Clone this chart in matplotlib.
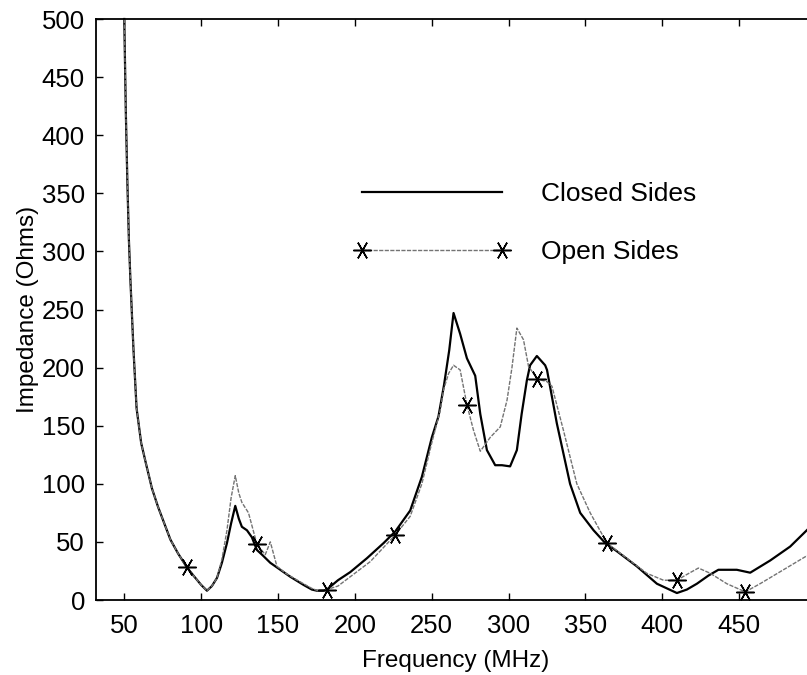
import numpy as np
import matplotlib
matplotlib.use('Agg')
import matplotlib.pyplot as plt

plt.rcParams['font.family'] = ['Liberation Sans', 'DejaVu Sans']

# Closed sides (solid line)
closed_f = [50, 51, 52, 53, 54, 55, 56, 58, 61, 64, 68, 72, 76, 80, 85, 90.8, 95, 100, 103.8,
            107, 110.3, 113.5, 116.8, 119.5, 122.2, 124.5, 126.5, 129.8, 133, 136.3, 139.6, 145,
            151.5, 158, 166.6, 172, 175.3, 179.6, 181.8, 189, 197, 207.9, 218.7, 226.3, 236,
            243.6, 250.1, 254.4, 258, 261.4, 264.2, 268.5, 272.9, 278.3, 281.6, 285.9, 291.3,
            295.7, 301, 305.4, 308.5, 311.9, 314, 318.4, 323.8, 325, 331.4, 340, 346.6, 355.3,
            362.9, 370.4, 383.4, 396.5, 409.5, 416, 422.5, 430, 436.5, 448.5, 457.2, 470.2,
            483.2, 494, 500]
closed_z = [500, 420, 360, 310, 275, 245, 215, 165, 135, 118, 96, 80, 66, 52, 40, 28, 21, 13, 8,
            12, 19, 32, 49, 66, 81, 70, 63, 60, 54, 43, 39, 32,
            26, 20, 13, 9, 8, 8, 9, 17, 24, 36, 49, 59, 77,
            106, 140, 158, 185, 215, 247, 229, 208, 193, 160, 129, 116,
            116, 115, 129, 160, 189, 202, 210, 202, 198, 152, 100, 75, 60,
            49, 42, 29, 14, 6, 9, 14, 21, 26, 26, 23.5, 34,
            46, 60, 68]

# Open sides (thin line with asterisks)
open_f = [50, 51, 52, 53, 54, 55, 56, 58, 61, 64, 68, 72, 76, 80, 85, 90.8, 95, 100, 103.8,
          107, 110.3, 113.5, 116.8, 119.5, 122.2, 124.5, 126.5, 130.8, 136.3, 141.7, 145, 149.3,
          155, 160, 166.6, 172, 176, 181.8, 189, 197, 210, 226.3, 236, 243.6, 250, 255.5, 257.7,
          261, 264.2, 268.5, 272.9, 277.2, 281.6, 288.1, 294.6, 299, 302.2, 305.4, 309.7, 313,
          318.8, 324.9, 328.2, 335.7, 344.4, 353.1, 364, 376.9, 389.9, 400.8, 409.5, 416, 423.5,
          431.2, 442, 454, 463.6, 478.8, 494, 500]
open_z = [500, 420, 360, 310, 275, 245, 215, 165, 135, 118, 96, 80, 66, 52, 40, 28, 21, 13, 8,
          12, 19, 35, 60, 88, 107, 92, 84, 75, 48, 39, 50, 29,
          23, 19, 14, 10, 8, 9, 12, 20, 33, 56, 72, 100, 135, 163, 181,
          195, 202, 198, 168, 146, 128, 140, 149, 172, 200, 234, 224, 201,
          190, 188, 184, 146, 100, 75, 49, 36, 23, 17, 17, 22, 27.5,
          23, 14, 7, 14, 26, 38, 42]
open_marker_f = [90.8, 136.3, 181.8, 226.3, 272.9, 318.8, 364, 409.5, 454]

x_ticks = [50, 100, 150, 200, 250, 300, 350, 400, 450]
y_ticks = [0, 50, 100, 150, 200, 250, 300, 350, 400, 450, 500]

mark_idx = [i for i, f in enumerate(open_f) if f in open_marker_f]

fig = plt.figure(figsize=(8.07, 6.75), dpi=100)
ax = fig.add_axes([96 / 807, 75 / 675, (816 - 96) / 807, (600 - 19) / 675])

ax.plot(closed_f, closed_z, color='black', lw=1.6, label='Closed Sides', clip_on=False)
ax.plot(open_f, open_z, color='0.45', lw=1.0, linestyle=(0, (3, 1)),
        marker=(6, 2, 90), markersize=13, markeredgewidth=1.1, markeredgecolor='black',
        markevery=mark_idx, label='Open Sides', clip_on=False)

ax.set_xlim(31.6, 500)
ax.set_ylim(0, 500)
ax.set_xticks(x_ticks)
ax.set_yticks(y_ticks)
ax.tick_params(axis='x', pad=10)
ax.tick_params(direction='in', length=5, width=1, labelsize=18.5, top=True, right=True)
ax.tick_params(axis='y', pad=8)
for s in ax.spines.values():
    s.set_linewidth(1.3)

ax.set_xlabel('Frequency (MHz)', fontsize=17.5, labelpad=9)
ax.set_ylabel('Impedance (Ohms)', fontsize=17.5, labelpad=2)

ax.legend(loc='upper left', bbox_to_anchor=(354 / 807, 1 - 182 / 675),
          bbox_transform=fig.transFigure, frameon=False, fontsize=19,
          handlelength=5.9, handletextpad=1.2, labelspacing=1.3,
          borderpad=0, borderaxespad=0, numpoints=2)

fig.savefig('out.png', dpi=100)
